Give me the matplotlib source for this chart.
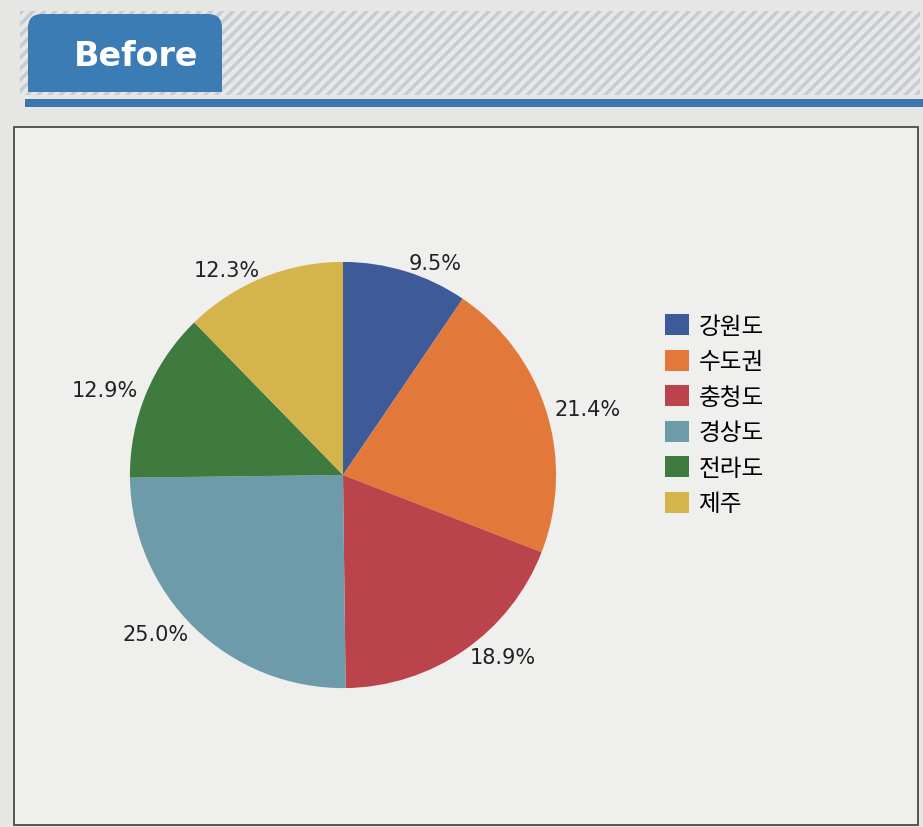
import matplotlib.pyplot as plt
from matplotlib.patches import Rectangle, FancyBboxPatch

plt.rcParams['font.family'] = ['DejaVu Sans', 'Noto Sans CJK KR']
plt.rcParams['hatch.linewidth'] = 2.5

# data
regions = ['강원도', '수도권', '충청도', '경상도', '전라도', '제주']
shares = [9.5, 21.4, 18.9, 25.0, 12.9, 12.3]
colors = ['#3f5a98', '#e2793a', '#bb434b', '#6d9ba9', '#3f7a3e', '#d5b44c']
pct_labels = ['%.1f%%' % v for v in shares]

W, H = 923, 828
fig = plt.figure(figsize=(W / 100, H / 100), dpi=100, facecolor='#e6e6e4')

# decorative page layer in pixel coordinates
bg = fig.add_axes([0, 0, 1, 1])
bg.set_xlim(0, W)
bg.set_ylim(H, 0)
bg.axis('off')
bg.add_patch(Rectangle((20, 12), 900, 84, facecolor='#e6e7e9', edgecolor='#c9cbcf',
                       hatch='///', lw=0))
bg.add_patch(FancyBboxPatch((28, 15), 194, 78, boxstyle='round,pad=0,rounding_size=14',
                            facecolor='#3b7cb4', edgecolor='none'))
bg.add_patch(Rectangle((28, 60), 194, 33, facecolor='#3b7cb4', edgecolor='none'))
bg.text(136, 56, 'Before', color='white', fontsize=24, fontweight='bold',
        ha='center', va='center')
bg.add_patch(Rectangle((25, 100), 898, 8, facecolor='#3a77ae', edgecolor='none'))
bg.add_patch(Rectangle((14, 128), 904, 698, facecolor='#efefed', edgecolor='#4a4a4a', lw=1.3))

# pie
ax = fig.add_axes([66 / W, 75 / H, 554 / W, 554 / H])
wedges, texts = ax.pie(shares, colors=colors, labels=pct_labels, startangle=90,
                       counterclock=False, labeldistance=1.04,
                       wedgeprops=dict(linewidth=0))
for t in texts:
    t.set_fontsize(15)
    t.set_color('#222222')
ax.set_xlim(-1.3, 1.3)
ax.set_ylim(-1.3, 1.3)
ax.set_aspect('equal')

leg = fig.legend(wedges, regions, loc='upper left', bbox_to_anchor=(644 / W, 1 - 294 / H),
                 frameon=False, prop={'family': ['Noto Sans CJK KR'], 'size': 17},
                 handlelength=1.0, handleheight=1.0, handletextpad=0.4, labelspacing=0.5)

fig.savefig('out.png', dpi=100, facecolor=fig.get_facecolor())
